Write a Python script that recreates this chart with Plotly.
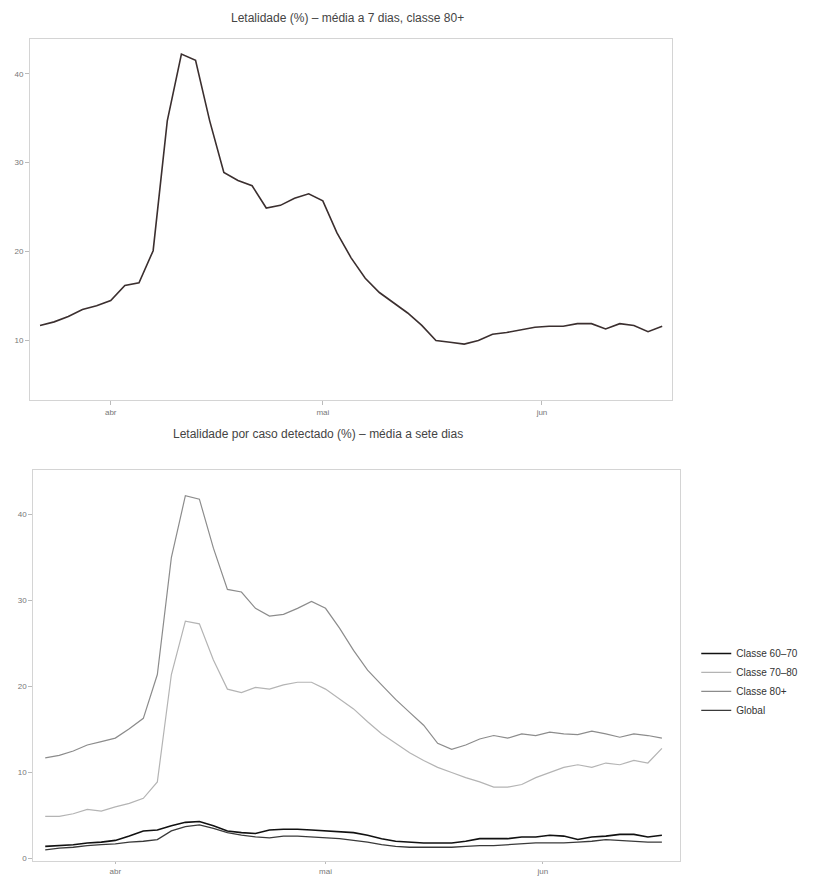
import pandas as pd
import plotly.graph_objects as go
from plotly.subplots import make_subplots

# ---- data, one value every 2 days ----
dates = pd.date_range("2020-03-22", periods=45, freq="2D")

letal_80_top = [11.7, 12.1, 12.7, 13.5, 13.9, 14.5, 16.2, 16.5, 20.1, 34.7,
                42.2, 41.5, 34.7, 28.9, 28.0, 27.4, 24.9, 25.2, 26.0, 26.5,
                25.7, 22.1, 19.3, 17.0, 15.4, 14.3, 13.1, 11.7, 10.0, 9.8,
                9.6, 10.0, 10.7, 10.9, 11.2, 11.5, 11.6, 11.6, 11.9, 11.9,
                11.3, 11.9, 11.7, 11.0, 11.6]

classe_60_70 = [1.4, 1.5, 1.6, 1.8, 1.9, 2.1, 2.6, 3.2, 3.3, 3.8,
                4.2, 4.3, 3.8, 3.2, 3.0, 2.9, 3.3, 3.4, 3.4, 3.3,
                3.2, 3.1, 3.0, 2.7, 2.3, 2.0, 1.9, 1.8, 1.8, 1.8,
                2.0, 2.3, 2.3, 2.3, 2.5, 2.5, 2.7, 2.6, 2.2, 2.5,
                2.6, 2.8, 2.8, 2.5, 2.7]

classe_70_80 = [4.9, 4.9, 5.2, 5.7, 5.5, 6.0, 6.4, 7.0, 8.9, 21.4,
                27.6, 27.3, 23.1, 19.7, 19.3, 19.9, 19.7, 20.2, 20.5, 20.5,
                19.7, 18.5, 17.4, 15.9, 14.5, 13.4, 12.3, 11.4, 10.6, 10.0,
                9.4, 8.9, 8.3, 8.3, 8.6, 9.4, 10.0, 10.6, 10.9, 10.6,
                11.1, 10.9, 11.4, 11.1, 12.8]

classe_80 = [11.7, 12.0, 12.5, 13.2, 13.6, 14.0, 15.1, 16.3, 21.4, 35.0,
             42.2, 41.8, 36.1, 31.3, 31.0, 29.1, 28.2, 28.4, 29.1, 29.9,
             29.1, 26.8, 24.2, 21.9, 20.2, 18.5, 17.0, 15.5, 13.4, 12.7,
             13.2, 13.9, 14.3, 14.0, 14.5, 14.3, 14.7, 14.5, 14.4, 14.8,
             14.5, 14.1, 14.5, 14.3, 14.0]

global_ = [1.0, 1.2, 1.3, 1.5, 1.6, 1.7, 1.9, 2.0, 2.2, 3.2,
           3.7, 3.9, 3.5, 3.0, 2.7, 2.5, 2.4, 2.6, 2.6, 2.5,
           2.4, 2.3, 2.1, 1.9, 1.6, 1.4, 1.3, 1.3, 1.3, 1.3,
           1.4, 1.5, 1.5, 1.6, 1.7, 1.8, 1.8, 1.8, 1.9, 2.0,
           2.2, 2.1, 2.0, 1.9, 1.9]

tick_dates = ["2020-04-01", "2020-05-01", "2020-06-01"]
tick_labels = ["abr", "mai", "jun"]
y_ticks = [0, 10, 20, 30, 40]

title_top = "Letalidade (%) – média a 7 dias, classe 80+"
title_bottom = "Letalidade por caso detectado (%) – média a sete dias"

# ---- figure ----
fig = make_subplots(rows=2, cols=1)

fig.add_trace(go.Scatter(x=dates, y=letal_80_top, mode="lines",
                         line=dict(color="#3b2f2f", width=1.6),
                         showlegend=False), row=1, col=1)

fig.add_trace(go.Scatter(x=dates, y=classe_60_70, mode="lines", name="Classe 60–70",
                         line=dict(color="#111111", width=1.6)), row=2, col=1)
fig.add_trace(go.Scatter(x=dates, y=classe_70_80, mode="lines", name="Classe 70–80",
                         line=dict(color="#b4b4b4", width=1.2)), row=2, col=1)
fig.add_trace(go.Scatter(x=dates, y=classe_80, mode="lines", name="Classe 80+",
                         line=dict(color="#8c8c8c", width=1.2)), row=2, col=1)
fig.add_trace(go.Scatter(x=dates, y=global_, mode="lines", name="Global",
                         line=dict(color="#3a3a3a", width=1.3)), row=2, col=1)

axis_common = dict(showline=True, linecolor="#d4d4d4", linewidth=1, mirror=True,
                   showgrid=False, zeroline=False, ticks="outside", ticklen=4,
                   tickcolor="#bbbbbb", tickfont=dict(size=8, color="#777777"))

fig.update_layout(
    width=822, height=878,
    margin=dict(l=22, r=150, t=31, b=0),
    paper_bgcolor="white", plot_bgcolor="white",
    font=dict(family="Liberation Sans, Arial, sans-serif", color="#333333"),
    xaxis=dict(domain=[0, 0.988], range=["2020-03-20 14:00", "2020-06-19 10:00"],
               tickvals=tick_dates, ticktext=tick_labels, **axis_common),
    yaxis=dict(domain=[0.5726, 1.0], range=[3.3, 43.9], tickvals=y_ticks, **axis_common),
    xaxis2=dict(domain=[0.005, 1.0], range=["2020-03-20 07:00", "2020-06-20 14:00"],
                tickvals=tick_dates, ticktext=tick_labels, **axis_common),
    yaxis2=dict(domain=[0.0272, 0.490], range=[-0.3, 45.2], tickvals=y_ticks, **axis_common),
    legend=dict(x=1.025, y=0.290, xanchor="left", yanchor="top", itemwidth=30,
                font=dict(size=10, color="#333333"), tracegroupgap=2,
                bgcolor="rgba(0,0,0,0)"),
    annotations=[
        dict(text=title_top, xref="paper", yref="paper", x=0.489, y=1.0,
             yanchor="middle", yshift=21,
             showarrow=False, font=dict(size=12, color="#444444")),
        dict(text=title_bottom, xref="paper", yref="paper", x=0.443, y=0.490,
             yanchor="middle", yshift=36,
             showarrow=False, font=dict(size=12, color="#444444")),
    ],
)
fig.update_xaxes(ticklen=2, row=2, col=1)

fig.write_html("out.html")
